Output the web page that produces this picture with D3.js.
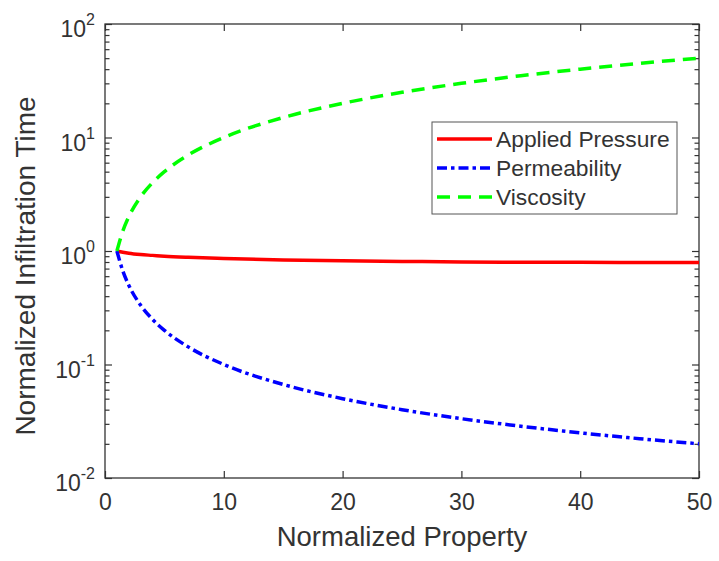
<!DOCTYPE html>
<html>
<head>
<meta charset="utf-8">
<script src="https://cdn.jsdelivr.net/npm/d3@7"></script>
<style>
  html, body { margin: 0; padding: 0; background: #fff; }
  text { font-family: "Liberation Sans", Arial, Helvetica, sans-serif; fill: #333; }
</style>
</head>
<body>
<svg id="chart" width="719" height="561"></svg>
<script>
// ---- data ----
const xValues = [1, 1.5, 2, 3, 4, 5, 7, 10, 15, 20, 25, 30, 35, 40, 45, 50];
const appliedPressure = [1.0, 0.975, 0.955, 0.93, 0.915, 0.90, 0.88, 0.86, 0.835, 0.82, 0.81, 0.80, 0.797, 0.794, 0.792, 0.79];
const permeability = [1.0, 0.667, 0.5, 0.333, 0.25, 0.2, 0.143, 0.1, 0.0667, 0.05, 0.04, 0.0333, 0.0286, 0.025, 0.0222, 0.02];
const viscosity = [1.0, 1.5, 2, 3, 4, 5, 7, 10, 15, 20, 25, 30, 35, 40, 45, 50];
const seriesNames = ["Applied Pressure", "Permeability", "Viscosity"];
const xTicks = [0, 10, 20, 30, 40, 50];
const yTickExponents = [-2, -1, 0, 1, 2];
const xLabel = "Normalized Property";
const yLabel = "Normalized Infiltration Time";

(function () {
const svg = d3.select("#chart");
const mLeft = 105, mRight = 699, mTop = 24, mBottom = 478;

const x = d3.scaleLinear().domain([0, 50]).range([mLeft, mRight]);
const y = d3.scaleLog().domain([0.01, 100]).range([mBottom, mTop]);

const axisColor = "#333";

const minorTicks = [];
for (let e = -2; e < 2; e++) {
  for (let m = 2; m <= 9; m++) minorTicks.push(m * Math.pow(10, e));
}

const gBottom = svg.append("g").attr("transform", `translate(0,${mBottom})`)
  .call(d3.axisBottom(x).tickValues(xTicks).tickSize(-7).tickPadding(16).tickFormat(d3.format("d")));
const gTop = svg.append("g").attr("transform", `translate(0,${mTop})`)
  .call(d3.axisTop(x).tickValues(xTicks).tickSize(-7).tickFormat(""));
const gLeft = svg.append("g").attr("transform", `translate(${mLeft},0)`)
  .call(d3.axisLeft(y).tickValues(yTickExponents.map(e => Math.pow(10, e))).tickSize(-7).tickFormat(""));
const gRight = svg.append("g").attr("transform", `translate(${mRight},0)`)
  .call(d3.axisRight(y).tickValues(yTickExponents.map(e => Math.pow(10, e))).tickSize(-7).tickFormat(""));
const gLeftMinor = svg.append("g").attr("transform", `translate(${mLeft},0)`)
  .call(d3.axisLeft(y).tickValues(minorTicks).tickSize(-4.5).tickFormat(""));
const gRightMinor = svg.append("g").attr("transform", `translate(${mRight},0)`)
  .call(d3.axisRight(y).tickValues(minorTicks).tickSize(-4.5).tickFormat(""));

[gBottom, gTop, gLeft, gRight, gLeftMinor, gRightMinor].forEach(g => {
  g.select(".domain").remove();
  g.selectAll("line").attr("stroke", axisColor).attr("stroke-width", 1.2);
});
gBottom.selectAll("text").attr("font-size", 23).attr("fill", axisColor)
  .style("font-family", '"Liberation Sans", Arial, sans-serif');

const yLab = svg.append("g");
yTickExponents.forEach(e => {
  const t = yLab.append("text")
    .attr("x", 95).attr("y", y(Math.pow(10, e)) + 13)
    .attr("text-anchor", "end").attr("font-size", 23);
  t.append("tspan").text("10");
  t.append("tspan").attr("dy", -12).attr("font-size", 16).text(String(e));
});

svg.append("rect").attr("x", mLeft).attr("y", mTop)
  .attr("width", mRight - mLeft).attr("height", mBottom - mTop)
  .attr("fill", "none").attr("stroke", axisColor).attr("stroke-width", 1.3);

svg.append("clipPath").attr("id", "clip").append("rect")
  .attr("x", mLeft).attr("y", mTop).attr("width", mRight - mLeft).attr("height", mBottom - mTop);

const line = d3.line().x(d => x(d[0])).y(d => y(d[1])).curve(d3.curveMonotoneX);
const series = [
  { name: seriesNames[0], values: appliedPressure, color: "#ff0000", dash: null },
  { name: seriesNames[1], values: permeability, color: "#0000ff", dash: "10,4,3.5,4" },
  { name: seriesNames[2], values: viscosity, color: "#00ff00", dash: "13,8" }
];
const gLines = svg.append("g").attr("clip-path", "url(#clip)");
series.forEach(s => {
  gLines.append("path")
    .datum(xValues.map((xv, i) => [xv, s.values[i]]))
    .attr("d", line)
    .attr("fill", "none")
    .attr("stroke", s.color)
    .attr("stroke-width", 3.5)
    .attr("stroke-dasharray", s.dash);
});

svg.append("text").attr("x", (mLeft + mRight) / 2).attr("y", 546)
  .attr("text-anchor", "middle").attr("font-size", 27.5).text(xLabel);
svg.append("text").attr("transform", `translate(35,266) rotate(-90)`)
  .attr("text-anchor", "middle").attr("font-size", 28).text(yLabel);

const lg = svg.append("g");
lg.append("rect").attr("x", 432).attr("y", 122).attr("width", 245).attr("height", 92)
  .attr("fill", "#fff").attr("stroke", "#555").attr("stroke-width", 1);
series.forEach((s, i) => {
  const cy = 139 + i * 29;
  lg.append("line").attr("x1", 437).attr("x2", 492).attr("y1", cy).attr("y2", cy)
    .attr("stroke", s.color).attr("stroke-width", 3.5).attr("stroke-dasharray", s.dash);
  lg.append("text").attr("x", 496).attr("y", cy + 8).attr("font-size", 22.8).attr("fill", "#000").text(s.name);
});
})();
</script>
</body>
</html>
